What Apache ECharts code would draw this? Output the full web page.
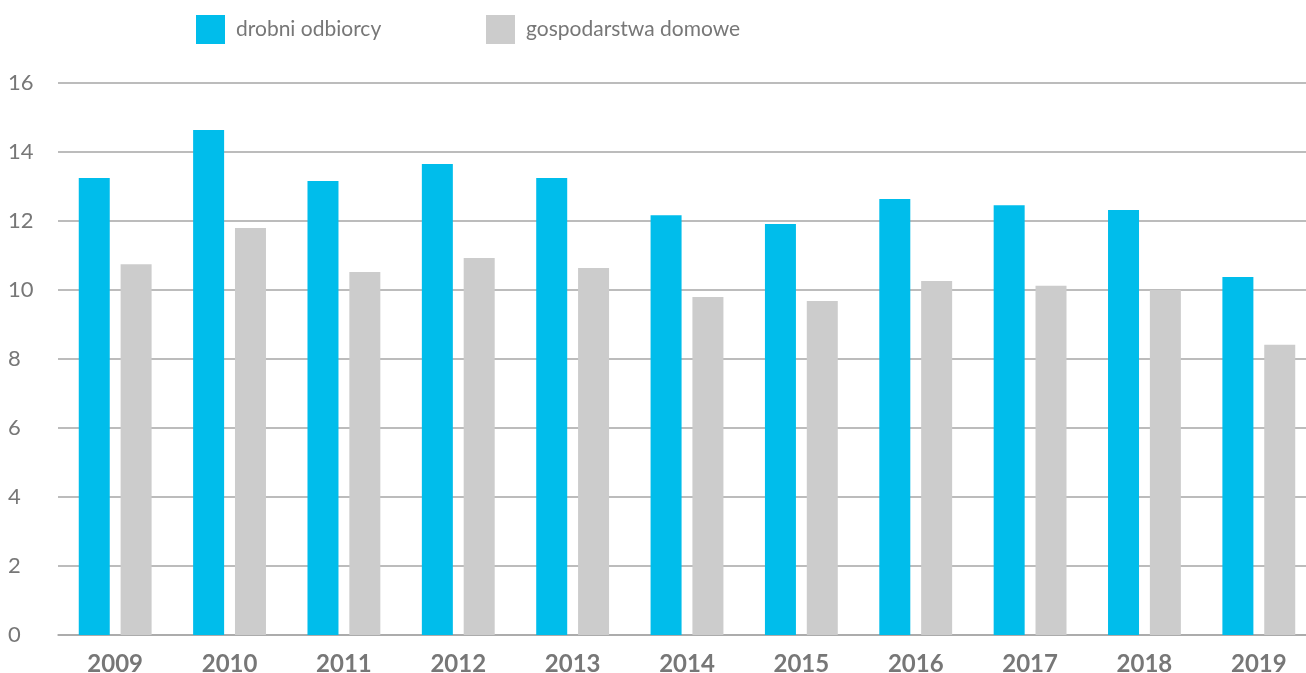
<!DOCTYPE html>
<html>
<head>
<meta charset="utf-8">
<script src="https://cdn.jsdelivr.net/npm/echarts@6/dist/echarts.min.js"></script>
<style>
  html, body { margin: 0; padding: 0; background: #fff; }
  #chart { width: 1306px; height: 673px; }
</style>
</head>
<body>
<div id="chart"></div>
<script>
  // lata
  var years = ['2009', '2010', '2011', '2012', '2013', '2014', '2015', '2016', '2017', '2018', '2019'];
  // drobni odbiorcy
  var drobni = [13.25, 14.64, 13.16, 13.65, 13.25, 12.17, 11.91, 12.64, 12.46, 12.32, 10.38];
  // gospodarstwa domowe
  var gospodarstwa = [10.75, 11.8, 10.52, 10.93, 10.64, 9.8, 9.68, 10.26, 10.12, 10.0, 8.41];

  var chart = echarts.init(document.getElementById('chart'));
  var legendText = { color: '#777', fontSize: 21, fontFamily: 'Lato', padding: [0, 0, 0, 6] };
  chart.setOption({
    animation: false,
    legend: [
      {
        data: ['drobni odbiorcy'],
        left: 191, top: 10,
        icon: 'rect', itemWidth: 29, itemHeight: 29,
        textStyle: legendText
      },
      {
        data: ['gospodarstwa domowe'],
        left: 481, top: 10,
        icon: 'rect', itemWidth: 29, itemHeight: 29,
        textStyle: legendText
      }
    ],
    // plot runs a bit past the right edge, like in the original
    grid: {
      left: 58,
      right: -10,
      top: 83,
      bottom: 38,
      outerBoundsMode: 'none'
    },
    xAxis: {
      type: 'category',
      data: years,
      axisTick: { show: false },
      axisLine: { lineStyle: { color: '#a6a6a6', width: 1.5 } },
      axisLabel: {
        color: '#777',
        fontSize: 24,
        fontWeight: 'bold',
        fontFamily: 'Lato',
        margin: 17
      }
    },
    yAxis: {
      type: 'value',
      min: 0,
      max: 16,
      interval: 2,
      axisLine: { show: false },
      axisTick: { show: false },
      splitLine: { lineStyle: { color: '#a6a6a6', width: 1.5 } },
      axisLabel: {
        color: '#777',
        fontSize: 22,
        fontFamily: 'Lato',
        align: 'left',
        margin: 50
      }
    },
    series: [
      {
        name: 'drobni odbiorcy',
        type: 'bar',
        data: drobni,
        barWidth: 31,
        barGap: '35%',
        itemStyle: { color: '#00bdeb' }
      },
      {
        name: 'gospodarstwa domowe',
        type: 'bar',
        data: gospodarstwa,
        barWidth: 31,
        itemStyle: { color: '#cccccc' }
      }
    ]
  });
</script>
</body>
</html>
